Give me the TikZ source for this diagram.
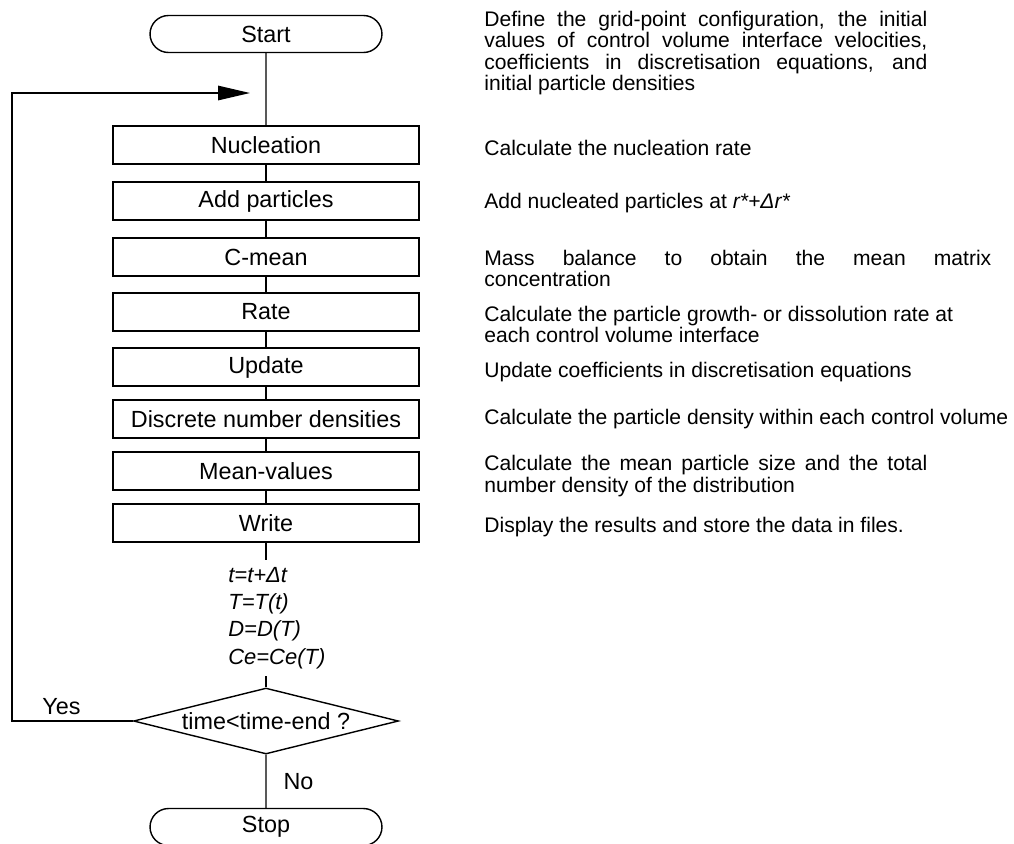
\documentclass[tikz,border=0pt]{standalone}
\usepackage{fontspec}
\setmainfont{Liberation Sans}
\usetikzlibrary{arrows.meta, positioning, shapes.geometric, shapes.misc}
\newlength\pxu
\setlength\pxu{0.02cm}
\newcommand{\jline}[2]{\makebox[#1\pxu][s]{#2}}

\begin{document}
\begin{tikzpicture}[
    x=0.02cm, y=-0.02cm,
    stepbox/.style={draw, line width=0.8pt, minimum width=6.12cm, minimum height=0.76cm,
                inner sep=0pt, font=\fontsize{13.3}{15}\selectfont},
    term/.style={draw, line width=0.8pt, rounded rectangle, minimum width=4.64cm,
                minimum height=0.74cm, inner sep=0pt, font=\fontsize{13.3}{15}\selectfont},
    decide/.style={draw, line width=0.8pt, diamond, aspect=4, minimum width=5.3cm,
                minimum height=1.32cm, inner sep=0pt, font=\fontsize{13.3}{15}\selectfont},
    note/.style={anchor=west, align=left, inner sep=0pt, font=\fontsize{12}{12}\selectfont},
    link/.style={line width=0.8pt},
    back/.style={-{Triangle[length=0.64cm, width=0.29cm]}, line width=0.8pt},
  ]
    \useasboundingbox (0,0) rectangle (1014,843);

    % main column
    \node[term]    (start) at (266, 34) {Start};
    \node[stepbox] (nuc)   at (266,145) {Nucleation};
    \node[stepbox] (add)   at (266,201) {Add particles};
    \node[stepbox] (cmean) at (266,257) {C-mean};
    \node[stepbox] (rate)  at (266,312) {Rate};
    \node[stepbox] (upd)   at (266,367) {Update};
    \node[stepbox] (dnd)   at (266,419) {Discrete number densities};
    \node[stepbox] (meanv) at (266,471) {Mean-values};
    \node[stepbox] (wr)    at (266,523) {Write};
    \node[anchor=north west, align=left, inner xsep=0pt, inner ysep=4pt,
          font=\fontsize{12.5}{15.5}\selectfont\itshape]
      (eqs) at (228,560) {t=t+Δt\\T=T(t)\\D=D(T)\\Ce=Ce(T)};
    \node[decide]  (dec)   at (266,721) {time<time-end ?};
    \node[term]    (stop)  at (266,827) {Stop};

    \coordinate (lft)  at (12,93);
    \coordinate (into) at (250,93);

    \draw[link] (start) -- (nuc);
    \foreach \a/\b in {nuc/add, add/cmean, cmean/rate, rate/upd, upd/dnd, dnd/meanv, meanv/wr}
      \draw[link] (\a) -- (\b);
    \draw[link] (wr) -- (wr.south |- eqs.north);
    \draw[link] (dec.north |- eqs.south) -- (dec);
    \draw[link] (dec) -- node[right=0.22cm, font=\fontsize{13.3}{15}\selectfont] (no) {No} (stop);
    \draw[back] (dec.west) -- node[above, pos=0.59, font=\fontsize{13.3}{15}\selectfont] (yes) {Yes}
      (lft |- dec.west) -- (lft) -- (into);

    % explanations
    \node[note] (n0) at (484, 53) {\jline{443}{Define the grid-point configuration, the initial}\\
      \jline{443}{values of control volume interface velocities,}\\
      \jline{443}{coefficients in discretisation equations, and}\\
      initial particle densities};
    \node[note] (n1) at (484,148) {Calculate the nucleation rate};
    \node[note] (n2) at (484,203) {Add nucleated particles at \textit{r*+Δr*}};
    \node[note] (n3) at (484,268) {\jline{507}{Mass balance to obtain the mean matrix}\\concentration};
    \node[note] (n4) at (484,324) {Calculate the particle growth- or dissolution rate at\\each control volume interface};
    \node[note] (n5) at (484,372) {Update coefficients in discretisation equations};
    \node[note] (n6) at (484,419) {Calculate the particle density within each control volume};
    \node[note] (n7) at (484,476) {\jline{443}{Calculate the mean particle size and the total}\\number density of the distribution};
    \node[note] (n8) at (484,527) {Display the results and store the data in files.};
  \end{tikzpicture}
\end{document}
